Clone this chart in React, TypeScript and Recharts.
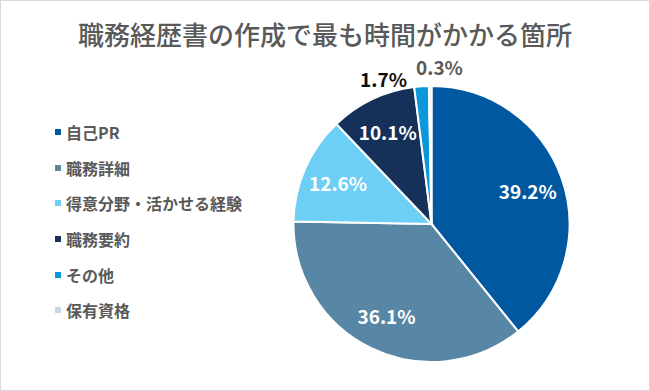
import { PieChart, Pie, Cell, Legend } from "recharts";

const categories = ["自己PR", "職務詳細", "得意分野・活かせる経験", "職務要約", "その他", "保有資格"];
const shares = [39.2, 36.1, 12.6, 10.1, 1.7, 0.3];
const colors = ["#0058a1", "#5887a6", "#6dcff6", "#15315a", "#0a98da", "#c6d6ec"];

const data = categories.map((name, i) => ({ name, value: shares[i] }));

const FONT = "'Noto Sans CJK JP', 'Noto Sans', sans-serif";
const RAD = Math.PI / 180;

function renderLabel(props: any) {
  const { cx, cy, midAngle, outerRadius, value } = props;
  const text = `${value.toFixed(1)}%`;
  if (value >= 5) {
    const r = outerRadius * 0.74;
    return (
      <text
        x={cx + r * Math.cos(-midAngle * RAD)}
        y={cy + r * Math.sin(-midAngle * RAD)}
        fill="#fff"
        textAnchor="middle"
        dominantBaseline="central"
        fontSize={19}
        fontWeight="bold"
        fontFamily={FONT}
      >
        {text}
      </text>
    );
  }
  // small slices: label just outside the rim
  const tiny = value < 1;
  const r = outerRadius + (tiny ? 20 : 8);
  const x = cx + r * Math.cos(-midAngle * RAD);
  const y = cy + r * Math.sin(-midAngle * RAD);
  return (
    <text
      x={x - 14}
      y={y}
      fill={tiny ? "#595959" : "#0d0d0d"}
      textAnchor={tiny ? "start" : "end"}
      dominantBaseline="central"
      fontSize={19}
      fontWeight="bold"
      fontFamily={FONT}
    >
      {text}
    </text>
  );
}

function LegendList() {
  return (
    <div style={{ fontFamily: FONT }}>
      {data.map((d, i) => (
        <div key={d.name} style={{ display: "flex", alignItems: "center", height: 35.7 }}>
          <span style={{ width: 6, height: 6, background: colors[i], marginRight: 5 }} />
          <span style={{ fontSize: 16, color: "#595959", fontWeight: 700 }}>{d.name}</span>
        </div>
      ))}
    </div>
  );
}

export default function App() {
  return (
    <>
      <style>{`body{margin:0}`}</style>
      <div
        style={{
          position: "relative",
          width: 650,
          height: 391,
          boxSizing: "border-box",
          border: "1px solid #d9d9d9",
          background: "#fff",
        }}
      >
        <div
          style={{
            position: "absolute",
            top: 19,
            left: 0,
            width: 648,
            textAlign: "center",
            fontFamily: FONT,
            fontSize: 26,
            lineHeight: "28px",
            fontWeight: 500,
            color: "#595959",
          }}
        >
          職務経歴書の作成で最も時間がかかる箇所
        </div>
        <PieChart width={648} height={389} margin={{ top: 0, right: 0, bottom: 0, left: 0 }}>
          <Pie
            data={data}
            dataKey="value"
            nameKey="name"
            cx={430.5}
            cy={223}
            outerRadius={138}
            startAngle={90}
            endAngle={-270}
            stroke="#fff"
            strokeWidth={2}
            labelLine={false}
            label={renderLabel}
            isAnimationActive={false}
          >
            {data.map((d, i) => (
              <Cell key={d.name} fill={colors[i]} />
            ))}
          </Pie>
          <Legend
            layout="vertical"
            align="center"
            verticalAlign="middle"
            wrapperStyle={{ left: 54, top: 113, width: 220 }}
            content={<LegendList />}
          />
        </PieChart>
      </div>
    </>
  );
}
